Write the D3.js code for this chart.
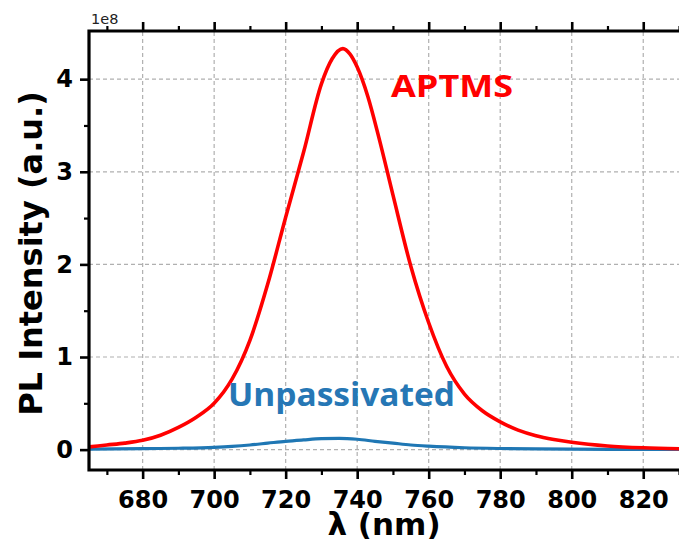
<!DOCTYPE html>
<html>
<head>
<meta charset="utf-8">
<script src="https://cdn.jsdelivr.net/npm/d3@7"></script>
<style>
  body { margin: 0; background: #fff; }
  svg { display: block; }
</style>
</head>
<body>
<div id="chart"></div>
<script>
// wavelengths (nm) and PL intensity (x1e8)
const aptmsNm = [665, 670, 675, 680, 685, 690, 695, 700, 705, 710, 715, 720, 725, 730, 733, 736, 738, 740, 743, 746, 750, 755, 760, 765, 770, 775, 780, 785, 790, 795, 800, 810, 820, 830]
const aptmsVal = [0.03, 0.05, 0.07, 0.10, 0.155, 0.24, 0.35, 0.50, 0.76, 1.18, 1.79, 2.51, 3.21, 3.95, 4.22, 4.33, 4.27, 4.13, 3.81, 3.38, 2.75, 1.98, 1.37, 0.90, 0.60, 0.42, 0.30, 0.21, 0.15, 0.11, 0.08, 0.04, 0.02, 0.01]

const unpassNm = [665, 680, 690, 700, 705, 710, 715, 720, 725, 730, 735, 740, 745, 750, 755, 760, 770, 780, 790, 800, 815, 830]
const unpassVal = [0.005, 0.01, 0.015, 0.025, 0.035, 0.05, 0.07, 0.09, 0.105, 0.118, 0.122, 0.112, 0.09, 0.07, 0.05, 0.037, 0.02, 0.012, 0.008, 0.005, 0.003, 0.002]

const xTicks = [680, 700, 720, 740, 760, 780, 800, 820]
const xMinor = [670, 690, 710, 730, 750, 770, 790, 810, 830]
const yTicks = [0, 1, 2, 3, 4]
const yMinor = [0.5, 1.5, 2.5, 3.5]

const width = 679, height = 552
const m = { top: 31, right: 0, bottom: 82, left: 89 }

const svg = d3.select('#chart').append('svg')
  .attr('width', width)
  .attr('height', height)

const x = d3.scaleLinear().domain([665, 830]).range([m.left, width - m.right])
const y = d3.scaleLinear().domain([-0.22, 4.52]).range([height - m.bottom, m.top])

const boldFont = 'DejaVu Sans, sans-serif'
const labelFont = 'Open Sans, Lato, sans-serif'

// grid
const grid = svg.append('g')
  .attr('stroke', '#b0b0b0')
  .attr('stroke-width', 1.2)
  .attr('stroke-dasharray', '4,3')
grid.selectAll('line.gx').data(xTicks).join('line')
  .attr('class', 'gx')
  .attr('x1', d => x(d)).attr('x2', d => x(d))
  .attr('y1', y.range()[0]).attr('y2', y.range()[1])
grid.selectAll('line.gy').data(yTicks).join('line')
  .attr('class', 'gy')
  .attr('y1', d => y(d)).attr('y2', d => y(d))
  .attr('x1', x.range()[0]).attr('x2', x.range()[1])

// curves
svg.append('clipPath').attr('id', 'clip')
  .append('rect')
  .attr('x', m.left).attr('y', m.top)
  .attr('width', width - m.left - m.right)
  .attr('height', height - m.top - m.bottom)

const line = d3.line()
  .x(d => x(d[0]))
  .y(d => y(d[1]))
  .curve(d3.curveMonotoneX)

const plot = svg.append('g').attr('clip-path', 'url(#clip)')
plot.append('path')
  .datum(d3.zip(unpassNm, unpassVal))
  .attr('d', line)
  .attr('fill', 'none')
  .attr('stroke', '#1f77b4')
  .attr('stroke-width', 3.2)
plot.append('path')
  .datum(d3.zip(aptmsNm, aptmsVal))
  .attr('d', line)
  .attr('fill', 'none')
  .attr('stroke', '#ff0000')
  .attr('stroke-width', 3.6)

// axes
const gBottom = svg.append('g')
  .attr('transform', `translate(0,${y.range()[0]})`)
  .call(d3.axisBottom(x).tickValues(xTicks).tickSize(9).tickPadding(12).tickFormat(d3.format('d')))
const gBottomMinor = svg.append('g')
  .attr('transform', `translate(0,${y.range()[0]})`)
  .call(d3.axisBottom(x).tickValues(xMinor).tickSize(5).tickFormat(''))
const gTop = svg.append('g')
  .attr('transform', `translate(0,${m.top})`)
  .call(d3.axisTop(x).tickValues(xTicks).tickSize(9).tickFormat(''))
const gTopMinor = svg.append('g')
  .attr('transform', `translate(0,${m.top})`)
  .call(d3.axisTop(x).tickValues(xMinor).tickSize(5).tickFormat(''))
const gLeft = svg.append('g')
  .attr('transform', `translate(${m.left},0)`)
  .call(d3.axisLeft(y).tickValues(yTicks).tickSize(9).tickPadding(7).tickFormat(d3.format('d')))
const gLeftMinor = svg.append('g')
  .attr('transform', `translate(${m.left},0)`)
  .call(d3.axisLeft(y).tickValues(yMinor).tickSize(5).tickFormat(''))

for (const g of [gBottom, gBottomMinor, gTop, gTopMinor, gLeft, gLeftMinor]) {
  g.select('.domain').remove()
  g.selectAll('.tick line').attr('stroke', '#000').attr('stroke-width', 2.6)
  g.selectAll('.tick text')
    .attr('fill', '#000')
    .attr('font-family', boldFont)
    .attr('font-weight', 'bold')
    .attr('font-size', 24)
}
for (const g of [gBottomMinor, gTopMinor, gLeftMinor]) {
  g.selectAll('.tick line').attr('stroke-width', 2.2)
}

// spines
svg.append('path')
  .attr('d', `M${x.range()[1] + 2},${m.top}H${m.left}V${y.range()[0]}H${x.range()[1] + 2}`)
  .attr('fill', 'none')
  .attr('stroke', '#000')
  .attr('stroke-width', 3.2)

// offset text
svg.append('text')
  .attr('x', m.left + 2).attr('y', 24)
  .attr('font-family', 'DejaVu Sans, sans-serif')
  .attr('font-size', 14.5)
  .attr('fill', '#222')
  .text('1e8')

// axis labels
svg.append('text')
  .attr('x', (x.range()[0] + x.range()[1]) / 2)
  .attr('y', 535)
  .attr('text-anchor', 'middle')
  .attr('font-family', boldFont)
  .attr('font-weight', 'bold')
  .attr('font-size', 31)
  .text('λ (nm)')

svg.append('text')
  .attr('transform', `translate(42,${(y.range()[0] + y.range()[1]) / 2 + 3}) rotate(-90)`)
  .attr('text-anchor', 'middle')
  .attr('font-family', boldFont)
  .attr('font-weight', 'bold')
  .attr('font-size', 32)
  .text('PL Intensity (a.u.)')

// series labels
svg.append('text')
  .attr('x', 391).attr('y', 97)
  .attr('font-family', labelFont)
  .attr('font-weight', 'bold')
  .attr('font-size', 31)
  .attr('fill', '#ff0000')
  .attr('textLength', 122)
  .attr('lengthAdjust', 'spacingAndGlyphs')
  .text('APTMS')

svg.append('text')
  .attr('x', 228).attr('y', 406)
  .attr('font-family', labelFont)
  .attr('font-weight', 'bold')
  .attr('font-size', 32)
  .attr('fill', '#2677b5')
  .attr('textLength', 227)
  .attr('lengthAdjust', 'spacingAndGlyphs')
  .text('Unpassivated')
</script>
</body>
</html>
